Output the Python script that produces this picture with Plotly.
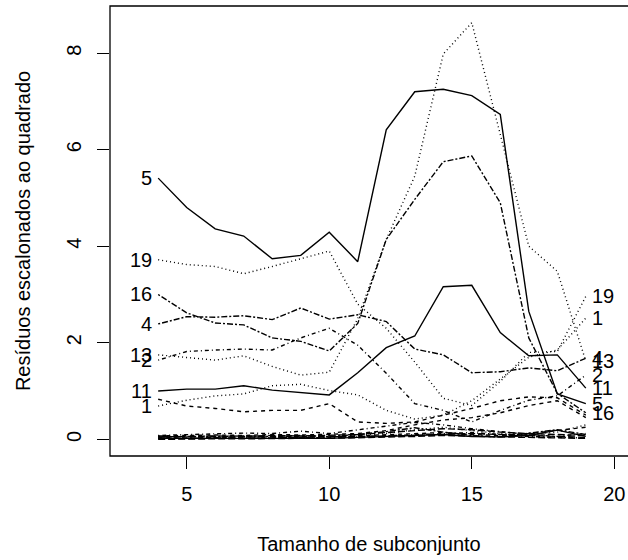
import plotly.graph_objects as go

# subset sizes
subset = list(range(4, 20))

# scaled squared residuals per observation (index = observation number)
s1 = [0.69, 0.81, 0.90, 0.94, 1.11, 1.14, 1.01, 0.92, 0.60, 0.42, 0.50, 0.80, 1.25, 1.70, 1.85, 2.51]
s2 = [1.64, 1.82, 1.85, 1.87, 1.85, 2.10, 2.30, 1.95, 1.37, 0.74, 0.60, 0.36, 0.60, 0.81, 0.90, 1.33]
s3 = [0.05, 0.06, 0.07, 0.06, 0.08, 0.07, 0.09, 0.10, 0.14, 0.18, 0.22, 0.20, 0.15, 0.12, 0.10, 0.08]
s4 = [2.39, 2.54, 2.53, 2.56, 2.48, 2.72, 2.49, 2.58, 2.44, 1.87, 1.75, 1.38, 1.40, 1.48, 1.42, 1.68]
s5 = [5.41, 4.80, 4.36, 4.21, 3.74, 3.81, 4.29, 3.68, 6.41, 7.20, 7.25, 7.12, 6.73, 2.65, 0.94, 0.74]
s6 = [0.83, 0.69, 0.64, 0.57, 0.60, 0.60, 0.74, 0.36, 0.33, 0.36, 0.50, 0.64, 0.80, 0.88, 0.86, 0.50]
s7 = [0.02, 0.03, 0.03, 0.04, 0.05, 0.06, 0.05, 0.08, 0.12, 0.20, 0.25, 0.18, 0.12, 0.10, 0.15, 0.30]
s8 = [0.08, 0.10, 0.12, 0.13, 0.12, 0.17, 0.12, 0.20, 0.28, 0.35, 0.30, 0.22, 0.16, 0.10, 0.06, 0.12]
s9 = [0.01, 0.02, 0.02, 0.03, 0.03, 0.04, 0.04, 0.05, 0.06, 0.08, 0.10, 0.12, 0.10, 0.08, 0.05, 0.04]
s10 = [0.06, 0.05, 0.06, 0.07, 0.06, 0.08, 0.06, 0.10, 0.16, 0.24, 0.15, 0.08, 0.05, 0.12, 0.20, 0.10]
s11 = [1.00, 1.04, 1.04, 1.11, 1.02, 0.97, 0.92, 1.38, 1.90, 2.14, 3.16, 3.19, 2.21, 1.73, 1.75, 1.06]
s12 = [0.04, 0.05, 0.04, 0.05, 0.05, 0.06, 0.05, 0.07, 0.10, 0.12, 0.14, 0.10, 0.08, 0.12, 0.18, 0.25]
s13 = [1.75, 1.70, 1.64, 1.73, 1.51, 1.33, 1.39, 2.50, 4.14, 5.45, 7.98, 8.63, 6.32, 4.00, 3.48, 1.62]
s14 = [0.03, 0.02, 0.03, 0.02, 0.03, 0.04, 0.03, 0.05, 0.08, 0.10, 0.12, 0.14, 0.10, 0.06, 0.04, 0.03]
s15 = [0.00, 0.01, 0.01, 0.01, 0.02, 0.02, 0.02, 0.03, 0.04, 0.06, 0.08, 0.06, 0.05, 0.04, 0.03, 0.02]
s16 = [3.00, 2.62, 2.41, 2.37, 2.10, 2.03, 1.83, 2.40, 4.14, 4.97, 5.75, 5.87, 4.90, 2.10, 0.95, 0.55]
s17 = [0.02, 0.02, 0.03, 0.02, 0.03, 0.03, 0.02, 0.04, 0.06, 0.08, 0.10, 0.06, 0.05, 0.08, 0.19, 0.06]
s18 = [0.07, 0.08, 0.09, 0.08, 0.10, 0.09, 0.10, 0.12, 0.18, 0.30, 0.40, 0.45, 0.55, 0.70, 0.80, 0.45]
s19 = [3.72, 3.62, 3.58, 3.43, 3.58, 3.74, 3.90, 2.80, 2.30, 1.60, 0.85, 0.70, 1.20, 1.80, 1.82, 2.96]

series = [s1, s2, s3, s4, s5, s6, s7, s8, s9, s10, s11, s12, s13, s14, s15, s16, s17, s18, s19]
obs_ids = [str(i) for i in range(1, 20)]

left_labelled = ["5", "19", "16", "4", "13", "2", "11", "1"]
right_labelled = ["19", "1", "4", "13", "2", "11", "5", "16"]

x_ticks = [5, 10, 15, 20]
y_ticks = [0, 2, 4, 6, 8]

# R line types (dotted, dotdash, longdash, twodash, solid, dashed ...)
lty_cycle = ["1px,3px", "1px,3px,4px,3px", "7px,3px", "2px,2px,6px,2px", "solid", "4px,4px"]

FONT = "Liberation Sans, Arial, Helvetica, sans-serif"
FS = 20

fig = go.Figure()
for i, ys in enumerate(series):
    fig.add_trace(go.Scatter(
        x=subset, y=ys, mode="lines", name=obs_ids[i],
        line=dict(color="black", width=1.4, dash=lty_cycle[i % 6]),
        showlegend=False, hoverinfo="skip"))

annotations = []
for lab in left_labelled:
    ys = series[int(lab) - 1]
    annotations.append(dict(x=subset[0], y=ys[0], text=lab, showarrow=False,
                            xanchor="right", yanchor="middle", xshift=-4,
                            font=dict(family=FONT, size=FS, color="black")))
for lab in right_labelled:
    ys = series[int(lab) - 1]
    annotations.append(dict(x=subset[-1], y=ys[-1], text=lab, showarrow=False,
                            xanchor="left", yanchor="middle", xshift=4,
                            font=dict(family=FONT, size=FS, color="black")))

ymax = max(max(s) for s in series)
yr = [-0.04 * ymax, 1.04 * ymax]

fig.update_layout(
    width=628, height=560,
    margin=dict(l=110, r=0, t=6, b=104),
    paper_bgcolor="white", plot_bgcolor="white",
    font=dict(family=FONT, size=FS, color="black"),
    annotations=annotations,
    shapes=[dict(type="rect", xref="paper", yref="paper", x0=0, x1=1.1, y0=0, y1=1,
                 line=dict(color="black", width=1.3), layer="above")],
    xaxis=dict(range=[2.31, 20.48], tickvals=x_ticks, ticks="outside", ticklen=12,
               tickwidth=1.3, tickcolor="black", showgrid=False, zeroline=False,
               showline=False, ticklabelstandoff=8,
               title=dict(text="Tamanho de subconjunto", standoff=32,
                          font=dict(family=FONT, size=FS))),
    yaxis=dict(range=yr, tickvals=y_ticks, ticks="outside", ticklen=12,
               tickwidth=1.3, tickcolor="black", showgrid=False, zeroline=False,
               showline=False, tickangle=-90, ticklabelstandoff=8,
               title=dict(text="Resíduos escalonados ao quadrado", standoff=27,
                          font=dict(family=FONT, size=FS))),
)

fig.write_html("out.html")
